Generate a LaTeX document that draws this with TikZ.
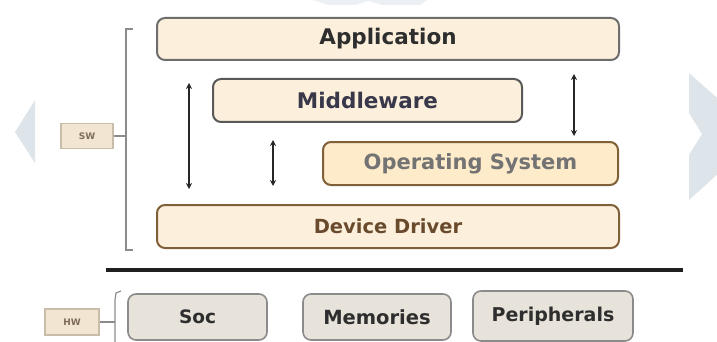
\documentclass[tikz,border=0pt]{standalone}
\usepackage{fontspec}
\setmainfont{DejaVu Sans}
\usetikzlibrary{arrows.meta}
\definecolor{deco}{HTML}{DDE4EA}
\definecolor{swfill}{HTML}{FCF0DC}
\definecolor{osfill}{HTML}{FDEBCA}
\definecolor{hwfill}{HTML}{E7E2DA}
\definecolor{brownline}{HTML}{806038}
\definecolor{greyline}{HTML}{6E6E6E}
\definecolor{ddtext}{HTML}{6A4A2C}
\definecolor{ostext}{HTML}{737373}
\definecolor{darktext}{HTML}{2E2E2E}
\definecolor{midtext}{HTML}{38384A}
\definecolor{tagfill}{HTML}{F2E5D2}
\definecolor{tagline}{HTML}{C9BDA9}
\definecolor{tagtext}{HTML}{7D6C58}
\tikzset{
  layer/.style={draw=greyline, line width=2pt, rounded corners=8pt, fill=swfill,
    inner sep=0pt, font=\bfseries, text=darktext},
  hwbox/.style={draw=greyline!80, line width=1.6pt, rounded corners=8pt, fill=hwfill,
    inner sep=0pt, font=\bfseries, text=darktext},
  tagbox/.style={draw=tagline, line width=1.2pt, fill=tagfill, inner sep=0pt,
    font=\bfseries\fontsize{9}{10}\selectfont, text=tagtext},
  brace/.style={draw=black!45, line width=1.2pt},
  dblarrow/.style={draw=black!85, line width=1.5pt,
    {Stealth[length=6pt,width=6pt]}-{Stealth[length=6pt,width=6pt]}},
}
\begin{document}
\begin{tikzpicture}[x=1pt,y=-1pt]
\useasboundingbox (0,0) rectangle (717,342);
\begin{scope}
\clip (0,0) rectangle (717,342);
% background watermark chevrons
\fill[deco] (35,100) -- (15,132) -- (35,163) -- cycle;
\fill[deco] (689,73) -- (760,136) -- (689,200) -- (689,155) -- (702,134) -- (689,113) -- cycle;
\fill[deco!55] (313,0) -- (427,0) -- (420,5) -- (382,5) -- (368,1) -- (356,5) -- (328,5) -- cycle;
\end{scope}

% software layers
\node[layer, minimum width=462pt, minimum height=42pt] (app) at (388,39)
  {\fontsize{21.5}{24}\selectfont Application};
\node[layer, draw=black!65, minimum width=309pt, minimum height=43pt, text=midtext] (mid) at (367.5,100.5)
  {\fontsize{21.5}{24}\selectfont Middleware};
\node[layer, draw=brownline, fill=osfill, text=ostext, minimum width=295pt, minimum height=43pt] (os) at (470.5,163.5)
  {\fontsize{21}{24}\selectfont Operating System};
\node[layer, draw=brownline, text=ddtext, minimum width=462pt, minimum height=43pt] (dd) at (388,226.5)
  {\fontsize{19.5}{22}\selectfont Device Driver};

% arrows
\coordinate (a1t) at (189,83);  \coordinate (a1b) at (189,189);
\coordinate (a2t) at (273,140); \coordinate (a2b) at (273,186);
\coordinate (a3t) at (574,74);  \coordinate (a3b) at (574,136);
\draw[dblarrow] (a1t) -- (a1b);
\draw[dblarrow] (a2t) -- (a2b);
\draw[dblarrow] (a3t) -- (a3b);

% SW bracket
\node[tagbox, minimum width=52pt, minimum height=25pt] (sw) at (87,136) {SW};
\coordinate (swtop) at (133,29);
\coordinate (swbot) at (133,250);
\coordinate (swmid) at (126,136);
\draw[brace] (swtop) -- (126,29) -- (126,250) -- (swbot);
\draw[brace] (sw.east) -- (swmid);

% separator
\coordinate (sepl) at (106,270);
\coordinate (sepr) at (683,270);
\draw[line width=3.5pt, black!88] (sepl) -- (sepr);

% hardware
\node[tagbox, minimum width=54pt, minimum height=26pt] (hw) at (72,322) {HW};
\coordinate (hwtop) at (121,291);
\coordinate (hwmid) at (115,322);
\draw[brace] (hwtop) -- (116,293) -- (115,300) -- (115,345);
\draw[brace] (hw.east) -- (hwmid);

\node[hwbox, minimum width=139pt, minimum height=46pt] (soc) at (197.5,317)
  {\fontsize{18.5}{22}\selectfont Soc};
\node[hwbox, minimum width=148pt, minimum height=46pt] (mem) at (377,317)
  {\fontsize{19.5}{22}\selectfont Memories};
\node[hwbox, minimum width=160pt, minimum height=50pt] (per) at (553,316)
  {\fontsize{19}{22}\selectfont Peripherals};
\end{tikzpicture}
\end{document}
